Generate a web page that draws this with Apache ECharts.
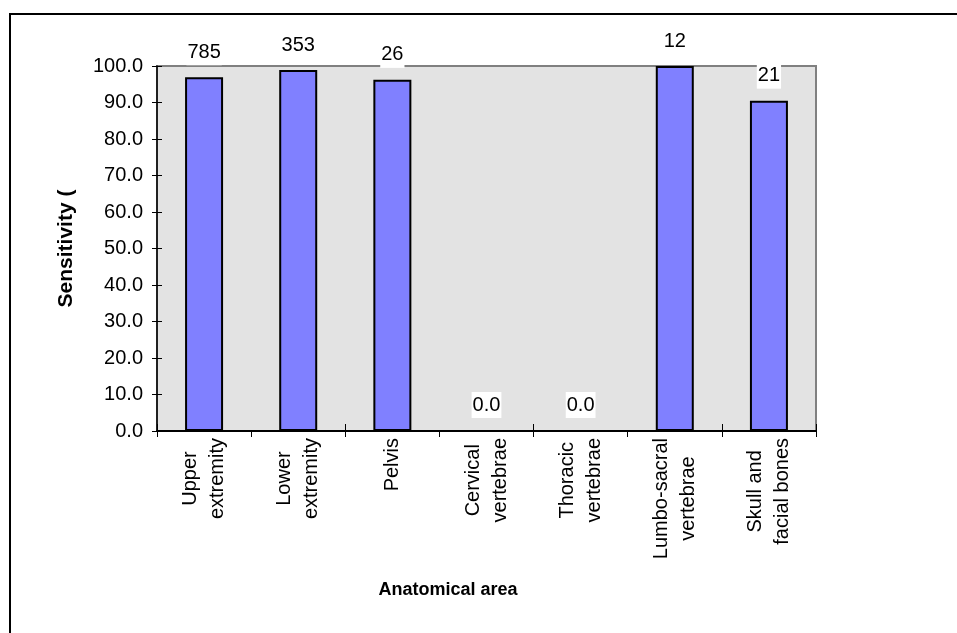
<!DOCTYPE html>
<html>
<head>
<meta charset="utf-8">
<script src="https://cdn.jsdelivr.net/npm/echarts@6/dist/echarts.min.js"></script>
<style>
    html, body { margin: 0; padding: 0; background: #fff; }
    #chart { width: 957px; height: 633px; }
</style>
</head>
<body>
<div id="chart"></div>
<script>
    // anatomical areas (x axis)
    const categories = ['Upper\nextremity', 'Lower\nextremity', 'Pelvis', 'Cervical\nvertebrae',
        'Thoracic\nvertebrae', 'Lumbo-sacral\nvertebrae', 'Skull and\nfacial bones'];
    // sensitivity in percent
    const sensitivity = [96.9, 98.9, 96.2, 0, 0, 100, 90.5];
    // text shown over each bar
    const barLabels = ['785', '353', '26', '0.0', '0.0', '12', '21'];

    const font = 'Liberation Sans, Arial, sans-serif';
    const myChart = echarts.init(document.getElementById('chart'));

    const option = {
        animation: false,
        backgroundColor: '#fff',
        textStyle: { fontFamily: font },
        grid: {
            left: 157, right: 141, top: 66, bottom: 202,
            show: true,
            backgroundColor: '#e3e3e3',
            borderColor: '#808080',
            borderWidth: 2
        },
        graphic: [
            {
                type: 'rect',
                shape: { x: 10, y: 14, width: 1200, height: 900 },
                style: { fill: 'none', stroke: '#000', lineWidth: 2 }
            },
            {
                type: 'text',
                x: 448, y: 590,
                style: {
                    text: 'Anatomical area',
                    font: 'bold 18px "Liberation Sans", Arial, sans-serif',
                    fill: '#000',
                    align: 'center',
                    verticalAlign: 'middle'
                }
            }
        ],
        xAxis: [
            {
                type: 'category',
                data: categories,
                axisLine: { lineStyle: { color: '#000', width: 2 } },
                axisTick: { show: true, length: 6, lineStyle: { color: '#000', width: 1 } },
                axisLabel: {
                    interval: 0,
                    rotate: 90,
                    margin: 7,
                    color: '#000',
                    fontSize: 20,
                    lineHeight: 27,
                    formatter: function (v) {
                        return v.split('\n').map(s => '{a|' + s + '}').join('\n');
                    },
                    rich: { a: { align: 'center', fontSize: 20, lineHeight: 27, color: '#000', fontFamily: font } }
                }
            },
            {
                type: 'category',
                data: categories,
                position: 'bottom',
                axisLine: { show: false },
                axisTick: { show: true, inside: true, length: 7, lineStyle: { color: '#000', width: 1 } },
                axisLabel: { show: false }
            }
        ],
        yAxis: [
            {
                type: 'value',
                min: 0, max: 100, interval: 10,
                name: 'Sensitivity (',
                nameLocation: 'middle',
                nameGap: 80,
                nameTextStyle: { fontWeight: 'bold', fontSize: 21, color: '#000', fontFamily: font },
                axisLine: { show: true, lineStyle: { color: '#000', width: 1.5 } },
                axisTick: { show: true, length: 5, lineStyle: { color: '#000', width: 1 } },
                splitLine: { show: false },
                axisLabel: {
                    color: '#000', fontSize: 20, margin: 14,
                    formatter: v => v.toFixed(1)
                }
            },
            {
                type: 'value',
                min: 0, max: 100, interval: 10,
                position: 'left',
                axisLine: { show: false },
                axisTick: { show: true, inside: true, length: 5, lineStyle: { color: '#000', width: 1 } },
                splitLine: { show: false },
                axisLabel: { show: false }
            }
        ],
        series: [
            {
                type: 'bar',
                data: sensitivity,
                barWidth: 38,
                itemStyle: { color: '#8080ff', borderColor: '#000', borderWidth: 2 },
                label: {
                    show: true,
                    position: 'top',
                    distance: 12,
                    color: '#000',
                    fontSize: 20,
                    backgroundColor: '#fff',
                    padding: [3, 1],
                    formatter: p => barLabels[p.dataIndex]
                }
            }
        ]
    };

    myChart.setOption(option);
</script>
</body>
</html>
